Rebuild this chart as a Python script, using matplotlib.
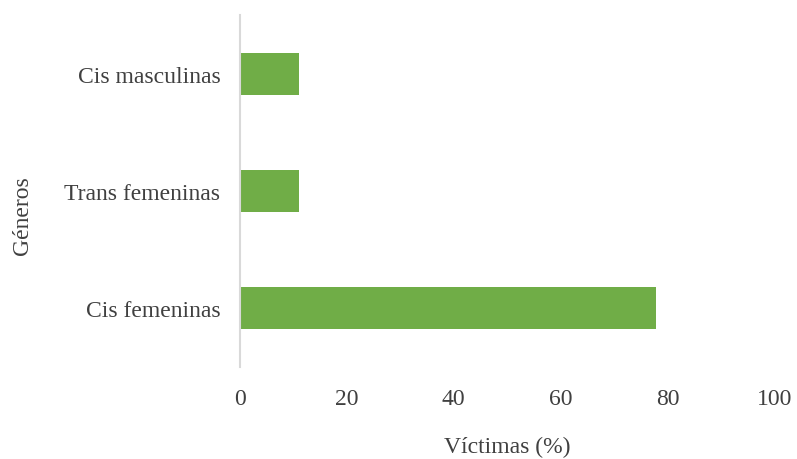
import matplotlib.pyplot as plt

categories = ["Cis femeninas", "Trans femeninas", "Cis masculinas"]
values = [77.8, 11.1, 11.1]
x_ticks = [0, 20, 40, 60, 80, 100]

plt.rcParams['font.family'] = ['Liberation Serif', 'DejaVu Serif']

fig = plt.figure(figsize=(7.97, 4.6), dpi=100)
ax = fig.add_axes([0.301, 0.2, 0.671, 0.765])

ax.barh(range(len(categories)), values, height=0.36, color="#70AD47")

ax.set_xlim(0, 100)
ax.set_ylim(-0.5, 2.5)
ax.set_xticks(x_ticks)
ax.set_yticks(range(len(categories)))
ax.set_yticklabels(categories)
ax.tick_params(axis="both", length=0, labelsize=17, labelcolor="#404040")
ax.tick_params(axis="x", pad=15)
ax.tick_params(axis="y", pad=14)

for side in ["top", "right", "bottom"]:
    ax.spines[side].set_visible(False)
ax.spines["left"].set_color("#D9D9D9")
ax.spines["left"].set_linewidth(1.5)

ax.set_xlabel("Víctimas (%)", fontsize=17, color="#404040")
ax.set_ylabel("Géneros", fontsize=17, color="#404040")
ax.xaxis.set_label_coords(0.5, -0.195)
ax.yaxis.set_label_coords(-0.387, 0.432)

fig.savefig("out.png", dpi=100)
